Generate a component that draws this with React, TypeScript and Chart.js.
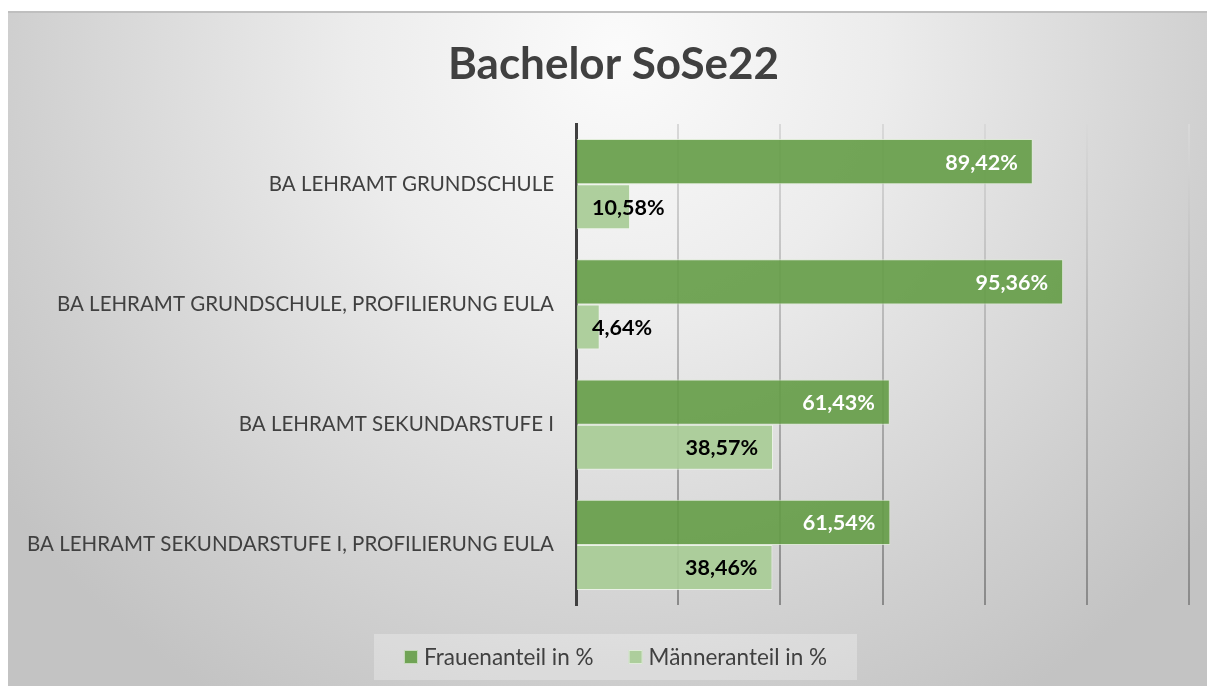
import React, { useEffect, useRef } from "react";
import { Chart, registerables } from "chart.js";

Chart.register(...registerables);

const titleText = "Bachelor SoSe22";
const categories = [
  "BA LEHRAMT GRUNDSCHULE",
  "BA LEHRAMT GRUNDSCHULE, PROFILIERUNG EULA",
  "BA LEHRAMT SEKUNDARSTUFE I",
  "BA LEHRAMT SEKUNDARSTUFE I, PROFILIERUNG EULA",
];
const seriesNames = ["Frauenanteil in %", "Männeranteil in %"];
const frauen = [89.42, 95.36, 61.43, 61.54];
const maenner = [10.58, 4.64, 38.57, 38.46];
const xMin = 0;
const xMax = 120;
const xStep = 20;

const FONT = "Lato, 'Open Sans', sans-serif";
const TEXT = "#404040";
const C_FRAUEN = "rgba(100,156,70,0.9)";
const C_MAENNER = "rgba(168,204,150,0.92)";

const fmt = (v: number) => v.toFixed(2).replace(".", ",") + "%";

const bgPlugin = {
  id: "bg",
  beforeDraw(chart: any) {
    const { ctx, width, height } = chart;
    ctx.save();
    const g = ctx.createRadialGradient(610, 40, 0, 610, 40, 760);
    g.addColorStop(0, "#fbfbfb");
    g.addColorStop(0.35, "#ececec");
    g.addColorStop(0.8, "#cfcfcf");
    g.addColorStop(1, "#c3c3c3");
    ctx.fillStyle = g;
    ctx.fillRect(0, 0, width, height);
    ctx.fillStyle = "#bfbfbf";
    ctx.fillRect(0, 0, width, 2);
    ctx.restore();
  },
};

const titlePlugin = {
  id: "customTitle",
  afterDraw(chart: any) {
    const { ctx, width } = chart;
    ctx.save();
    ctx.font = `bold 44px ${FONT}`;
    ctx.fillStyle = TEXT;
    ctx.textAlign = "center";
    ctx.textBaseline = "middle";
    ctx.fillText(titleText, width / 2 + 2, 54);
    ctx.restore();
  },
};

const labelPlugin = {
  id: "valueLabels",
  afterDatasetsDraw(chart: any) {
    const { ctx } = chart;
    ctx.save();
    ctx.font = `bold 21.5px ${FONT}`;
    ctx.textBaseline = "middle";
    chart.data.datasets.forEach((ds: any, di: number) => {
      const meta = chart.getDatasetMeta(di);
      meta.data.forEach((bar: any, i: number) => {
        const txt = fmt(ds.data[i]);
        const w = ctx.measureText(txt).width;
        ctx.fillStyle = di === 0 ? "#ffffff" : "#000000";
        const len = bar.x - bar.base;
        if (len >= w + 28) {
          ctx.textAlign = "right";
          ctx.fillText(txt, bar.x - 15, bar.y + 1);
        } else {
          ctx.textAlign = "left";
          ctx.fillText(txt, bar.base + 15, bar.y + 1);
        }
      });
    });
    ctx.restore();
  },
};

const legendPlugin = {
  id: "customLegend",
  afterDraw(chart: any) {
    const { ctx, width } = chart;
    ctx.save();
    ctx.font = `22.5px ${FONT}`;
    ctx.textBaseline = "middle";
    const sq = 14;
    const gapSq = 6;
    const gapItem = 35;
    const items = chart.data.datasets.map((ds: any) => ({
      label: ds.label,
      color: ds.backgroundColor,
      w: sq + gapSq + ctx.measureText(ds.label).width,
    }));
    const total = items.reduce((s: number, it: any) => s + it.w, 0) + gapItem * (items.length - 1);
    const cx = width / 2 + 4;
    const cy = 646;
    let x = cx - total / 2;
    const pad = 30;
    ctx.fillStyle = "rgba(255,255,255,0.28)";
    ctx.fillRect(x - pad, cy - 23, total + pad * 2, 46);
    items.forEach((it: any) => {
      ctx.fillStyle = it.color;
      ctx.fillRect(x, cy - sq / 2, sq, sq);
      ctx.strokeStyle = "rgba(255,255,255,0.6)";
      ctx.lineWidth = 1;
      ctx.strokeRect(x + 0.5, cy - sq / 2 + 0.5, sq - 1, sq - 1);
      ctx.fillStyle = TEXT;
      ctx.textAlign = "left";
      ctx.fillText(it.label, x + sq + gapSq, cy + 1);
      x += it.w + gapItem;
    });
    ctx.restore();
  },
};

export default function App() {
  const ref = useRef<HTMLCanvasElement>(null);
  useEffect(() => {
    if (!ref.current) return;
    const chart = new Chart(ref.current, {
      type: "bar",
      data: {
        labels: categories,
        datasets: [
          {
            label: seriesNames[0],
            data: frauen,
            backgroundColor: C_FRAUEN,
            borderColor: "rgba(220,235,210,0.8)",
            borderWidth: 1,
            categoryPercentage: 0.75,
            barPercentage: 1,
          },
          {
            label: seriesNames[1],
            data: maenner,
            backgroundColor: C_MAENNER,
            borderColor: "rgba(240,248,235,0.8)",
            borderWidth: 1,
            categoryPercentage: 0.75,
            barPercentage: 1,
          },
        ],
      },
      options: {
        indexAxis: "y",
        animation: false,
        responsive: true,
        maintainAspectRatio: false,
        layout: { padding: { left: 0, right: 26, top: 113, bottom: 81 } },
        plugins: {
          legend: { display: false },
          tooltip: { enabled: false },
          title: { display: false },
        },
        scales: {
          x: {
            type: "linear",
            min: xMin,
            max: xMax,
            ticks: { display: false, stepSize: xStep },
            border: { display: false },
            grid: {
              drawTicks: false,
              lineWidth: 2,
              color: (c: any) => {
                if (c.tick && c.tick.value === 0) return "rgba(0,0,0,0)";
                const ch = c.chart;
                const area = ch.chartArea;
                if (!area) return "#bbbbbb";
                const g = ch.ctx.createLinearGradient(0, area.top, 0, area.bottom);
                g.addColorStop(0, "#d9d9d9");
                g.addColorStop(1, "#8a8a8a");
                return g;
              },
            },
            afterFit: (s: any) => {
              s.height = 0;
            },
          },
          y: {
            type: "category",
            grid: { display: false, drawTicks: false },
            border: { display: true, color: "#404040", width: 3 },
            ticks: {
              color: TEXT,
              font: { family: FONT, size: 20.5 },
              padding: 22,
            },
            afterFit: (s: any) => {
              s.width = 568;
            },
          },
        },
      },
      plugins: [bgPlugin, labelPlugin, legendPlugin, titlePlugin],
    });
    return () => chart.destroy();
  }, []);
  return (
    <div style={{ width: 1207, height: 675, marginTop: 3, position: "relative" }}>
      <canvas ref={ref} />
    </div>
  );
}
